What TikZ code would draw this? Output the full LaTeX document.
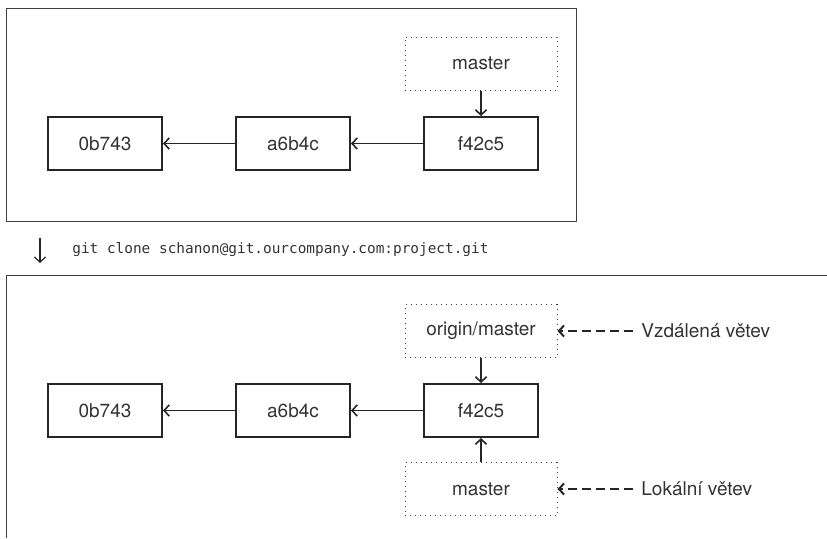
\documentclass[tikz,border=0pt]{standalone}
\usepackage{fontspec}
\setmainfont{TeX Gyre Heros}
\setmonofont{DejaVu Sans Mono}
\usetikzlibrary{arrows.meta,positioning}

\begin{document}
\begin{tikzpicture}[x=0.5pt, y=-0.5pt, >={Straight Barb[length=2.6pt,width=5.6pt]},
  commit/.style={draw=black!85, line width=1pt, minimum width=57pt, minimum height=26.5pt, inner sep=0pt, text=black!80, font=\fontsize{9.5}{11}\selectfont},
  ref/.style={draw=black!75, dotted, line width=0.5pt, minimum width=76pt, minimum height=26.5pt, inner sep=0pt, text=black!80, font=\fontsize{9.5}{11}\selectfont},
  lbl/.style={anchor=west, inner sep=0pt, text=black!80, font=\fontsize{9.5}{11}\selectfont},
  link/.style={->, draw=black!85, line width=0.8pt}]
\useasboundingbox (0,0) rectangle (827,538);
\draw[black!75, line width=0.5pt] (6,8) rectangle (576,221);
\draw[black!75, line width=0.5pt] (6,538) -- (6,275) -- (827,275);
\foreach \i/\h in {0/0b743,1/a6b4c,2/f42c5}{
	\node[commit] (t\i) at (105+188*\i,143.5){\h};
	\node[commit] (b\i) at (105+188*\i,410.5){\h};}
\foreach \i/\j in {1/0,2/1}{
	\draw[link] (t\i) -- (t\j);
	\draw[link] (b\i) -- (b\j);}
\node[ref] (tmaster) at (481,63.5){master};
\draw[link] (tmaster) -- (t2);
% git clone
\coordinate (dtop) at (40,238);
\coordinate (dbot) at (40,263);
\draw[->, black!85, line width=0.6pt] (dtop) -- (dbot);
\node[anchor=west, inner sep=0pt, text=black!80, font=\ttfamily\fontsize{7.2}{9}\selectfont] (clone) at (72,250){git clone schanon@git.ourcompany.com:project.git};
% remote and local branch
\node[ref] (origin) at (481,331){origin/master};
\node[ref] (bmaster) at (481,489){master};
\draw[link] (origin) -- (b2);
\draw[link] (bmaster) -- (b2);
\node[lbl] (remote) at (641,331){Vzdálená větev};
\node[lbl] (local) at (641,489){Lokální větev};
\draw[link, dash pattern=on 4.5pt off 2.5pt, line width=1pt, shorten <=4pt] (remote.west) -- (origin);
\draw[link, dash pattern=on 4.5pt off 2.5pt, line width=1pt, shorten <=4pt] (local.west) -- (bmaster);
\end{tikzpicture}
\end{document}
